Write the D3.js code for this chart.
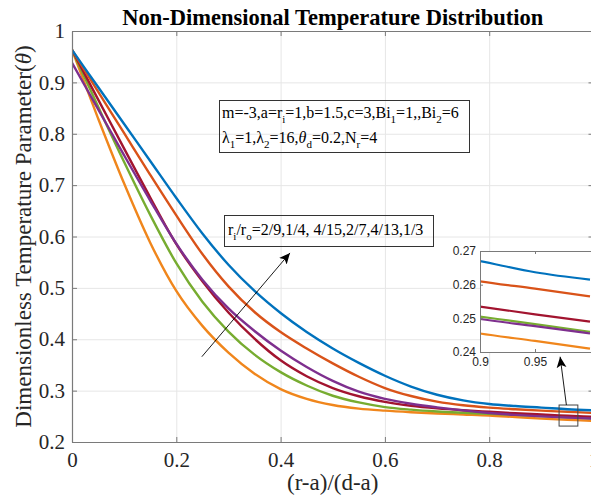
<!DOCTYPE html>
<html><head><meta charset="utf-8">
<script src="https://cdn.jsdelivr.net/npm/d3@7"></script>
<style>body{margin:0;background:#fff} svg{display:block}</style>
</head><body><svg id="c" width="591" height="502"></svg>
<script>
// ---- data ----
const xValues = [0,0.05,0.1,0.15,0.2,0.25,0.3,0.35,0.4,0.45,0.5,0.55,0.6,0.65,0.7,0.75,0.8,0.85,0.9,0.95,1];
const seriesNames = ["2/9","1/4","4/15","2/7","4/13","1/3"];
const s_2_9  = [0.963,0.830,0.703,0.588,0.494,0.426,0.374,0.333,0.303,0.284,0.272,0.265,0.261,0.258,0.2555,0.2535,0.2515,0.2485,0.2455,0.2433,0.241];
const s_1_4  = [0.963,0.853,0.745,0.642,0.548,0.473,0.415,0.370,0.336,0.310,0.290,0.277,0.268,0.263,0.2595,0.257,0.2548,0.2527,0.2505,0.2483,0.246];
const s_4_15 = [0.963,0.867,0.771,0.676,0.585,0.513,0.452,0.401,0.359,0.328,0.305,0.289,0.278,0.2705,0.2655,0.2618,0.2588,0.256,0.2535,0.2512,0.249];
const s_2_7  = [0.938,0.848,0.758,0.670,0.586,0.516,0.460,0.416,0.378,0.346,0.319,0.298,0.284,0.2745,0.2675,0.2615,0.2565,0.2527,0.2498,0.2477,0.2455];
const s_4_13 = [0.963,0.882,0.801,0.720,0.641,0.566,0.503,0.453,0.414,0.382,0.353,0.327,0.305,0.2895,0.2785,0.2715,0.267,0.2638,0.261,0.2588,0.2565];
const s_1_3  = [0.963,0.891,0.819,0.747,0.675,0.606,0.545,0.494,0.451,0.414,0.382,0.354,0.329,0.308,0.292,0.281,0.274,0.270,0.267,0.2637,0.2615];
const seriesValues = [s_2_9, s_1_4, s_4_15, s_2_7, s_4_13, s_1_3];
const seriesColors = ["#F0861C","#77AC30","#A2142F","#7E2F8E","#D95319","#0072BD"];

const xTicks = [0,0.2,0.4,0.6,0.8,1];
const xTickLabels = ["0","0.2","0.4","0.6","0.8","1"];
const yTicks = [0.2,0.3,0.4,0.5,0.6,0.7,0.8,0.9,1];
const yTickLabels = ["0.2","0.3","0.4","0.5","0.6","0.7","0.8","0.9","1"];
const insetXTicks = [0.9,0.95];
const insetXTickLabels = ["0.9","0.95"];
const insetYTicks = [0.24,0.25,0.26,0.27];
const insetYTickLabels = ["0.24","0.25","0.26","0.27"];

// annotations in data coordinates
const mainArrow = [[0.249,0.366],[0.418,0.568]];
const zoomBox = [[0.934,0.272],[0.970,0.231]];
const zoomArrow = [[0.948,0.272],[0.936,0.366]];

// ---- layout ----
const svg = d3.select("#c");
const L = 72, R = 593.5, T = 31, B = 442;
const x = d3.scaleLinear().domain([0,1]).range([L,R]);
const y = d3.scaleLinear().domain([0.2,1]).range([B,T]);
const serif = "'Liberation Serif','Times New Roman',serif";
const sans = "'Liberation Sans',Arial,sans-serif";
const axisCol = "#7a7a7a";

const defs = svg.append("defs");
defs.append("clipPath").attr("id","plotclip").append("rect")
  .attr("x",L).attr("y",T).attr("width",R-L).attr("height",B-T);
defs.append("marker").attr("id","ah").attr("viewBox","0 0 10 10")
  .attr("refX",10).attr("refY",5).attr("markerWidth",11).attr("markerHeight",11)
  .attr("markerUnits","userSpaceOnUse").attr("orient","auto")
  .append("path").attr("d","M0,0.5 L10,5 L0,9.5 L2.5,5 Z").attr("fill","#000");

// grid
const grid = svg.append("g");
grid.append("g").attr("transform",`translate(0,${B})`)
  .call(d3.axisBottom(x).tickValues(xTicks.slice(1,-1)).tickSize(-(B-T)).tickFormat(""))
  .call(g=>g.select(".domain").remove())
  .call(g=>g.selectAll("line").attr("stroke","#e6e6e6").attr("stroke-width",1));
grid.append("g").attr("transform",`translate(${L},0)`)
  .call(d3.axisLeft(y).tickValues(yTicks.slice(1,-1)).tickSize(-(R-L)).tickFormat(""))
  .call(g=>g.select(".domain").remove())
  .call(g=>g.selectAll("line").attr("stroke","#e6e6e6").attr("stroke-width",1));

// lines
const line = d3.line().x((d,i)=>x(xValues[i])).y(d=>y(d)).curve(d3.curveMonotoneX);
const plot = svg.append("g").attr("clip-path","url(#plotclip)");
seriesValues.forEach((vals,k)=>{
  plot.append("path").datum(vals).attr("d",line).attr("fill","none")
    .attr("stroke",seriesColors[k]).attr("stroke-width",2.4);
});

// axes
function styleAxis(g){
  g.select(".domain").attr("stroke",axisCol).attr("stroke-width",1.2);
  g.selectAll(".tick line").attr("stroke",axisCol).attr("stroke-width",1);
  g.selectAll("text").attr("font-family",serif).attr("font-size","21px").attr("fill","#262626");
}
svg.append("g").attr("transform",`translate(0,${B})`)
  .call(d3.axisBottom(x).tickValues(xTicks).tickSize(-5).tickPadding(10).tickSizeOuter(0)
    .tickFormat((d,i)=>xTickLabels[i])).call(styleAxis);
svg.append("g").attr("transform",`translate(${L},0)`)
  .call(d3.axisLeft(y).tickValues(yTicks).tickSize(-5).tickPadding(7).tickSizeOuter(0)
    .tickFormat((d,i)=>yTickLabels[i])).call(styleAxis);
svg.append("g").attr("transform",`translate(0,${T})`)
  .call(d3.axisTop(x).tickValues(xTicks).tickSize(-5).tickSizeOuter(0).tickFormat(""))
  .call(styleAxis);
svg.append("g").attr("transform",`translate(${R},0)`)
  .call(d3.axisRight(y).tickValues(yTicks).tickSize(-5).tickSizeOuter(0).tickFormat(""))
  .call(styleAxis);

// title & labels
svg.append("text").attr("x",(L+R)/2).attr("y",25).attr("text-anchor","middle")
  .attr("font-family",serif).attr("font-weight","bold").attr("font-size","22.5px").attr("fill","#000")
  .text("Non-Dimensional Temperature Distribution");
svg.append("text").attr("x",(L+R)/2).attr("y",490).attr("text-anchor","middle")
  .attr("font-family",serif).attr("font-size","23px").attr("fill","#262626")
  .text("(r-a)/(d-a)");
const yl = svg.append("text").attr("transform",`translate(31,${(T+B)/2}) rotate(-90)`)
  .attr("text-anchor","middle").attr("font-family",serif).attr("font-size","23px").attr("fill","#262626");
yl.append("tspan").text("Dimensionless Temperature Parameter(");
yl.append("tspan").attr("font-style","italic").text("θ");
yl.append("tspan").text(")");

// text boxes
function richText(xp, yp, parts){
  const t = svg.append("text").attr("x",xp).attr("y",yp)
    .attr("font-family",serif).attr("font-size","16px").attr("fill","#000");
  parts.forEach(p=>{
    const s = t.append("tspan").text(p.t);
    if(p.sub){ s.attr("font-size","11px").attr("dy",5); }
    if(p.after){ s.attr("dy",-5); }
    if(p.it){ s.attr("font-style","italic"); }
  });
  return t;
}
svg.append("rect").attr("x",219.5).attr("y",100.5).attr("width",250).attr("height",52)
  .attr("fill","none").attr("stroke","#333").attr("stroke-width",1);
richText(222,118,[
  {t:"m=-3,a=r"},{t:"i",sub:1},{t:"=1,b=1.5,c=3,Bi",after:1},{t:"1",sub:1},{t:"=1,,Bi",after:1},{t:"2",sub:1},{t:"=6",after:1}
]);
richText(222,143,[
  {t:"λ"},{t:"1",sub:1},{t:"=1,λ",after:1},{t:"2",sub:1},{t:"=16,",after:1},{t:"θ",it:1},{t:"d",sub:1},{t:"=0.2,N",after:1},{t:"r",sub:1},{t:"=4",after:1}
]);
svg.append("rect").attr("x",224.5).attr("y",215.5).attr("width",209).attr("height",31)
  .attr("fill","none").attr("stroke","#333").attr("stroke-width",1);
richText(228,235,[
  {t:"r"},{t:"i",sub:1},{t:"/r",after:1},{t:"o",sub:1},{t:"=2/9,1/4, 4/15,2/7,4/13,1/3",after:1}
]);

// main arrow
svg.append("line").attr("x1",x(mainArrow[0][0])).attr("y1",y(mainArrow[0][1]))
  .attr("x2",x(mainArrow[1][0])).attr("y2",y(mainArrow[1][1]))
  .attr("stroke","#000").attr("stroke-width",0.9).attr("marker-end","url(#ah)");

// zoom box + arrow
svg.append("rect").attr("x",x(zoomBox[0][0])).attr("y",y(zoomBox[0][1]))
  .attr("width",x(zoomBox[1][0])-x(zoomBox[0][0])).attr("height",y(zoomBox[1][1])-y(zoomBox[0][1]))
  .attr("fill","none").attr("stroke","#444").attr("stroke-width",1);
svg.append("line").attr("x1",x(zoomArrow[0][0])).attr("y1",y(zoomArrow[0][1]))
  .attr("x2",x(zoomArrow[1][0])).attr("y2",y(zoomArrow[1][1]))
  .attr("stroke","#000").attr("stroke-width",0.9).attr("marker-end","url(#ah)");

// inset
const iL = 480, iR = 590, iT = 251, iB = 352;
const xi = d3.scaleLinear().domain([0.9,1]).range([iL,iR]);
const yi = d3.scaleLinear().domain([0.24,0.27]).range([iB,iT]);
defs.append("clipPath").attr("id","insetclip").append("rect")
  .attr("x",iL).attr("y",iT).attr("width",iR-iL+5).attr("height",iB-iT);
const ins = svg.append("g");
ins.append("rect").attr("x",iL).attr("y",iT).attr("width",iR-iL+5).attr("height",iB-iT).attr("fill","#fff");
const iline = d3.line().defined((d,i)=>xValues[i]>=0.8).x((d,i)=>xi(xValues[i])).y(d=>yi(d)).curve(d3.curveMonotoneX);
const ip = ins.append("g").attr("clip-path","url(#insetclip)");
seriesValues.forEach((vals,k)=>{
  ip.append("path").datum(vals).attr("d",iline).attr("fill","none")
    .attr("stroke",seriesColors[k]).attr("stroke-width",2.2);
});
function styleInset(g){
  g.select(".domain").attr("stroke",axisCol).attr("stroke-width",1);
  g.selectAll(".tick line").attr("stroke",axisCol);
  g.selectAll("text").attr("font-family",sans).attr("font-size","12px").attr("fill","#262626");
}
ins.append("g").attr("transform",`translate(0,${iB})`)
  .call(d3.axisBottom(xi).tickValues(insetXTicks).tickSize(-3).tickPadding(5).tickSizeOuter(0)
    .tickFormat((d,i)=>insetXTickLabels[i])).call(styleInset)
  .call(g=>g.select(".domain").attr("d",`M${iL},0.5H${iR+5}`));
ins.append("g").attr("transform",`translate(${iL},0)`)
  .call(d3.axisLeft(yi).tickValues(insetYTicks).tickSize(-3).tickPadding(4).tickSizeOuter(0)
    .tickFormat((d,i)=>insetYTickLabels[i])).call(styleInset);
ins.append("g").attr("transform",`translate(0,${iT})`)
  .call(d3.axisTop(xi).tickValues(insetXTicks).tickSize(-3).tickSizeOuter(0).tickFormat(""))
  .call(styleInset)
  .call(g=>g.select(".domain").attr("d",`M${iL},0.5H${iR+5}`));
</script></body></html>
